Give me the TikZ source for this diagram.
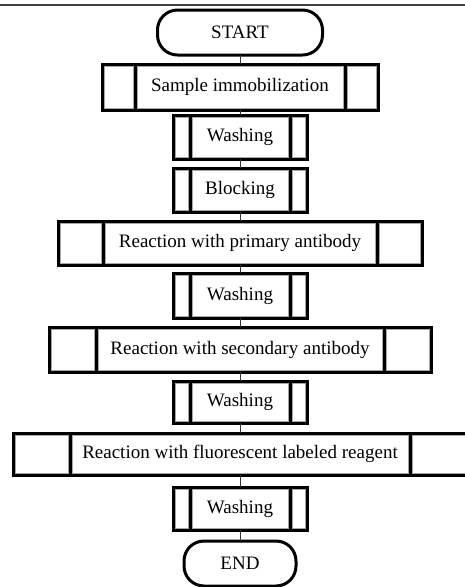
\documentclass[tikz,border=0pt]{standalone}
\usepackage{fontspec}
\setmainfont{Liberation Serif}
\usetikzlibrary{positioning}

\begin{document}
\begin{tikzpicture}[
    x=1pt, y=1pt,
    font=\fontsize{19}{22}\selectfont,
    frame/.style={draw=black, line width=3},
    inset/.style={draw=gray!70, line width=0.8},
    terminal/.style={frame, rectangle, rounded corners=20, minimum width=165, minimum height=45, inner sep=0, outer sep=0},
    stepbox/.style={frame, rectangle, minimum height=44, inner sep=0, outer sep=0,
        path picture={\draw[inset] ([shift={(2,-2)}]path picture bounding box.north west) rectangle ([shift={(-2,2)}]path picture bounding box.south east);}},
    link/.style={draw=black!80, line width=1}
    ]
	\useasboundingbox (0,0) rectangle (465,-587);
	% rule of the page above
	\draw[gray!50!black, line width=2.2] (0,-5) -- (465,-5);

	\node [terminal] (start) at (240,-32.5) {START};
	\node [stepbox, minimum width=210, minimum height=46] (sample) at (240,-87) {Sample immobilization};
	\node [stepbox, minimum width=100] (wash1) at (240,-137) {Washing};
	\node [stepbox, minimum width=100] (block) at (240,-190) {Blocking};
	\node [stepbox, minimum width=274] (prim) at (240,-243) {Reaction with primary antibody};
	\node [stepbox, minimum width=100, minimum height=45] (wash2) at (240,-295.5) {Washing};
	\node [stepbox, minimum width=288, minimum height=45] (sec) at (240,-349.5) {Reaction with secondary antibody};
	\node [stepbox, minimum width=100, minimum height=42] (wash3) at (240,-402) {Washing};
	\node [stepbox, minimum width=340, minimum height=42] (fluor) at (240,-454) {Reaction with fluorescent labeled reagent};
	\node [stepbox, minimum width=100, minimum height=43] (wash4) at (240,-508.5) {Washing};
	\node [terminal, minimum width=112] (end) at (240,-563.5) {END};

	% side cells
	\foreach \n/\w in {sample/33,wash1/17,block/17,prim/45,wash2/17,sec/47,wash3/17,fluor/57,wash4/17}{
		\draw[frame] (\n.north west) rectangle ([xshift=-\w]\n.south west)
		             (\n.north east) rectangle ([xshift=\w]\n.south east);
		\draw[inset] ([xshift=-2,yshift=-2]\n.north west) rectangle ([xshift=-\w+2,yshift=2]\n.south west)
		             ([xshift=2,yshift=-2]\n.north east) rectangle ([xshift=\w-2,yshift=2]\n.south east);
	}

	% connectors
	\foreach \a/\b in {start/sample,sample/wash1,wash1/block,block/prim,prim/wash2,wash2/sec,sec/wash3,wash3/fluor,fluor/wash4,wash4/end}
		\draw[link] (\a) -- (\b);
\end{tikzpicture}
\end{document}
